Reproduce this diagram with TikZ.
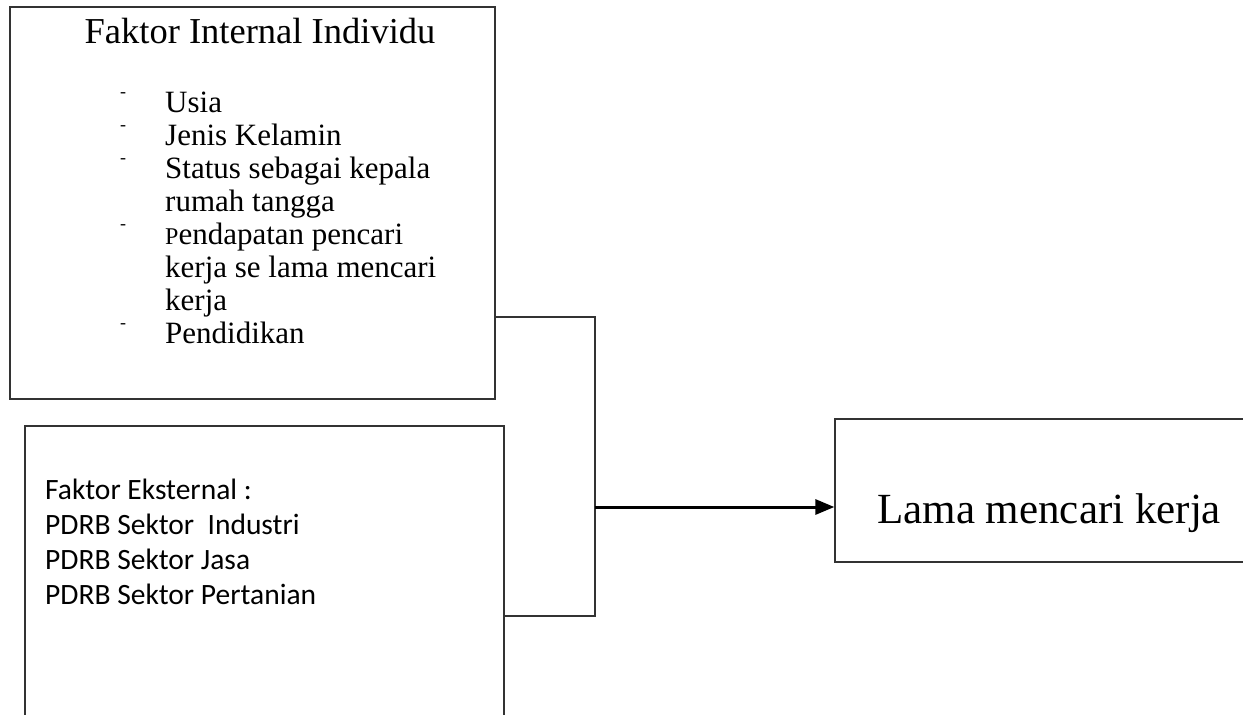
\documentclass[tikz,border=0pt]{standalone}
\usepackage{fontspec}
\setmainfont{Liberation Serif}
\newfontfamily\calibri{Carlito}
\usetikzlibrary{arrows.meta}
\newcommand{\dashitem}{\makebox[0pt][r]{\raisebox{15pt}{\fontsize{18}{18}\selectfont -}\hspace{39pt}}}
\begin{document}
\begin{tikzpicture}[x=1pt, y=-1pt, box/.style={rectangle, draw=black!80, line width=1.3pt, fill=white, inner sep=0pt}, txt/.style={inner sep=0pt, anchor=base west}, link/.style={draw=black!80, line width=1.2pt}]
    \useasboundingbox (0,0) rectangle (1243,715);
    \clip (0,0) rectangle (1243,715);
    \node [box, minimum width=485pt, minimum height=392pt] (intbox) at (252.5,203) {};
    \node [box, minimum width=479pt, minimum height=400pt] (extbox) at (264.5,626) {};
    \node [box, minimum width=465pt, minimum height=143pt] (hasil) at (1067.5,490.5) {};
    \node [txt, anchor=base, font=\fontsize{36.5}{36}\selectfont] (judul) at (260,43) {Faktor Internal Individu};
    % base anchor of a multi-line node sits on its last line
    \node [txt, align=left, font=\fontsize{31}{33}\selectfont] (daftar) at (165,343) {\dashitem Usia\\ \dashitem Jenis Kelamin\\ \dashitem Status sebagai kepala\\ rumah tangga\\ \dashitem {\fontsize{24}{33}\selectfont P}endapatan pencari\\ kerja se lama mencari\\ kerja\\ \dashitem Pendidikan};
    \node [txt, align=left, font=\calibri\fontsize{29.5}{35}\selectfont] (eksternal) at (45,604) {Faktor Eksternal :\\ PDRB Sektor\ \ Industri\\ PDRB Sektor Jasa\\ PDRB Sektor Pertanian};
    \node [txt, font=\fontsize{43}{43}\selectfont] (lama) at (877,523) {Lama mencari kerja};
    \coordinate (simpul) at (595,507);
    \draw [link] (intbox.east |- 0,317) -| (simpul) |- (extbox.east |- 0,616);
    \draw [line width=3pt, -{Triangle[length=19pt, width=15pt]}] (simpul) -- (hasil.west |- simpul);
\end{tikzpicture}
\end{document}
